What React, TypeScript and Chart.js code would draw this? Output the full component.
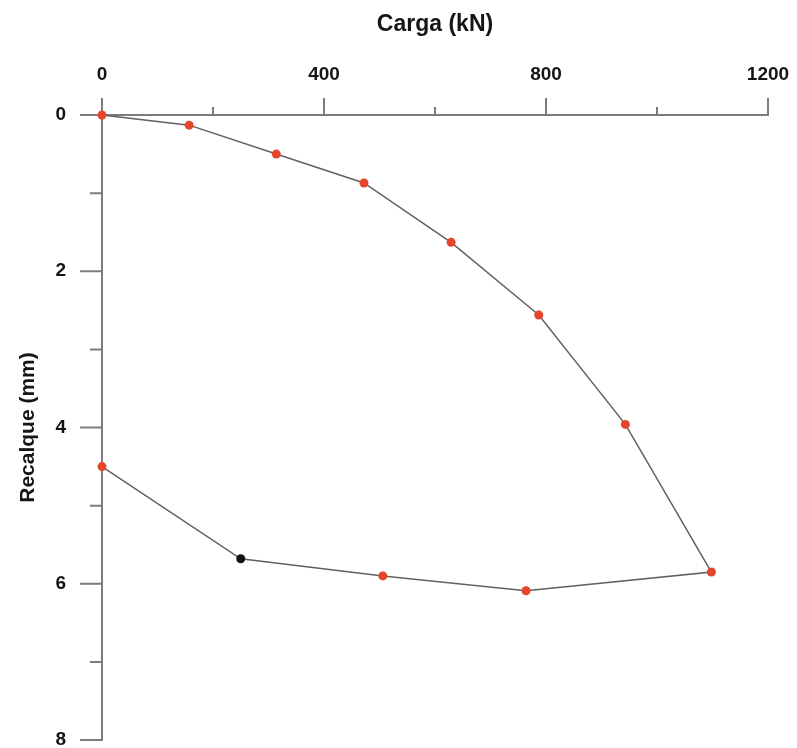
import React, { useEffect, useRef } from 'react';
import { Chart, registerables } from 'chart.js';

Chart.register(...registerables);

// Data
const cargaKN = [0, 157, 314, 472, 629, 787, 943, 1098, 764, 506, 250, 0];
const recalqueMM = [0, 0.13, 0.5, 0.87, 1.63, 2.56, 3.96, 5.85, 6.09, 5.9, 5.68, 4.5];
const blackPointIndex = 10;

const xMajorTicks = [0, 400, 800, 1200];
const xMinorTicks = [200, 600, 1000];
const yMajorTicks = [0, 2, 4, 6, 8];
const yMinorTicks = [1, 3, 5, 7];

const FONT = '"Liberation Sans", Arial, sans-serif';
const AXIS_COLOR = '#7d7d7d';
const TEXT_COLOR = '#151515';

const tickMarksPlugin = {
  id: 'tickMarks',
  beforeDatasetsDraw(chart: any) {
    const { ctx, chartArea, scales } = chart;
    const xs = scales.x;
    const ys = scales.y;
    ctx.save();
    ctx.strokeStyle = AXIS_COLOR;
    ctx.lineWidth = 2;
    ctx.beginPath();
    const top = chartArea.top;
    const left = chartArea.left;
    xMajorTicks.forEach((v) => {
      const px = xs.getPixelForValue(v);
      ctx.moveTo(px, top);
      ctx.lineTo(px, top - 17);
    });
    xMinorTicks.forEach((v) => {
      const px = xs.getPixelForValue(v);
      ctx.moveTo(px, top);
      ctx.lineTo(px, top - 8);
    });
    yMajorTicks.forEach((v) => {
      const py = ys.getPixelForValue(v);
      ctx.moveTo(left, py);
      ctx.lineTo(left - 22, py);
    });
    yMinorTicks.forEach((v) => {
      const py = ys.getPixelForValue(v);
      ctx.moveTo(left, py);
      ctx.lineTo(left - 12, py);
    });
    ctx.stroke();
    ctx.restore();
  },
};

export default function App() {
  const canvasRef = useRef<HTMLCanvasElement | null>(null);

  useEffect(() => {
    if (!canvasRef.current) return;
    const chart = new Chart(canvasRef.current, {
      type: 'scatter',
      data: {
        datasets: [
          {
            data: cargaKN.map((x, i) => ({ x, y: recalqueMM[i] })),
            showLine: true,
            borderColor: '#616161',
            borderWidth: 1.5,
            pointRadius: 4.5,
            pointHoverRadius: 4.5,
            pointBorderWidth: 0,
            pointBackgroundColor: (c: any) => (c.dataIndex === blackPointIndex ? '#111111' : '#e5452b'),
            pointBorderColor: (c: any) => (c.dataIndex === blackPointIndex ? '#111111' : '#e5452b'),
            clip: false as any,
          },
        ],
      },
      options: {
        animation: false,
        responsive: false,
        events: [],
        layout: { padding: { left: 0, right: 29, top: 0, bottom: 8 } },
        plugins: {
          legend: { display: false },
          tooltip: { enabled: false },
        },
        scales: {
          x: {
            type: 'linear',
            position: 'top',
            min: 0,
            max: 1200,
            afterBuildTicks: (s: any) => {
              s.ticks = xMajorTicks.map((v) => ({ value: v }));
            },
            afterFit: (s: any) => {
              s.height = 115;
              s.paddingLeft = 0;
              s.paddingRight = 0;
            },
            ticks: {
              autoSkip: false,
              maxRotation: 0,
              padding: 12,
              color: TEXT_COLOR,
              font: { family: FONT, size: 19, weight: 'bold' },
              callback: (v: any) => String(v),
            },
            grid: {
              drawOnChartArea: false,
              drawTicks: true,
              tickLength: 17,
              tickColor: 'rgba(0,0,0,0)',
            },
            border: { display: true, color: AXIS_COLOR, width: 2 },
            title: {
              display: true,
              text: 'Carga (kN)',
              color: TEXT_COLOR,
              font: { family: FONT, size: 23, weight: 'bold' },
              padding: { top: 11, bottom: 0 },
            },
          },
          y: {
            type: 'linear',
            reverse: true,
            min: 0,
            max: 8,
            afterBuildTicks: (s: any) => {
              s.ticks = yMajorTicks.map((v) => ({ value: v }));
            },
            afterFit: (s: any) => {
              s.width = 102;
              s.paddingTop = 0;
              s.paddingBottom = 0;
            },
            ticks: {
              autoSkip: false,
              padding: 14,
              color: TEXT_COLOR,
              font: { family: FONT, size: 19, weight: 'bold' },
              callback: (v: any) => String(v),
            },
            grid: {
              drawOnChartArea: false,
              drawTicks: true,
              tickLength: 22,
              tickColor: 'rgba(0,0,0,0)',
            },
            border: { display: true, color: AXIS_COLOR, width: 2 },
            title: {
              display: true,
              text: 'Recalque (mm)',
              color: TEXT_COLOR,
              font: { family: FONT, size: 21, weight: 'bold' },
              padding: { top: 16, bottom: 0 },
            },
          },
        },
      },
      plugins: [tickMarksPlugin],
    } as any);
    return () => chart.destroy();
  }, []);

  return (
    <div style={{ position: 'absolute', left: 0, top: 0, width: 797, height: 748, background: '#fff' }}>
      <canvas ref={canvasRef} width={797} height={748} style={{ display: 'block' }} />
    </div>
  );
}
